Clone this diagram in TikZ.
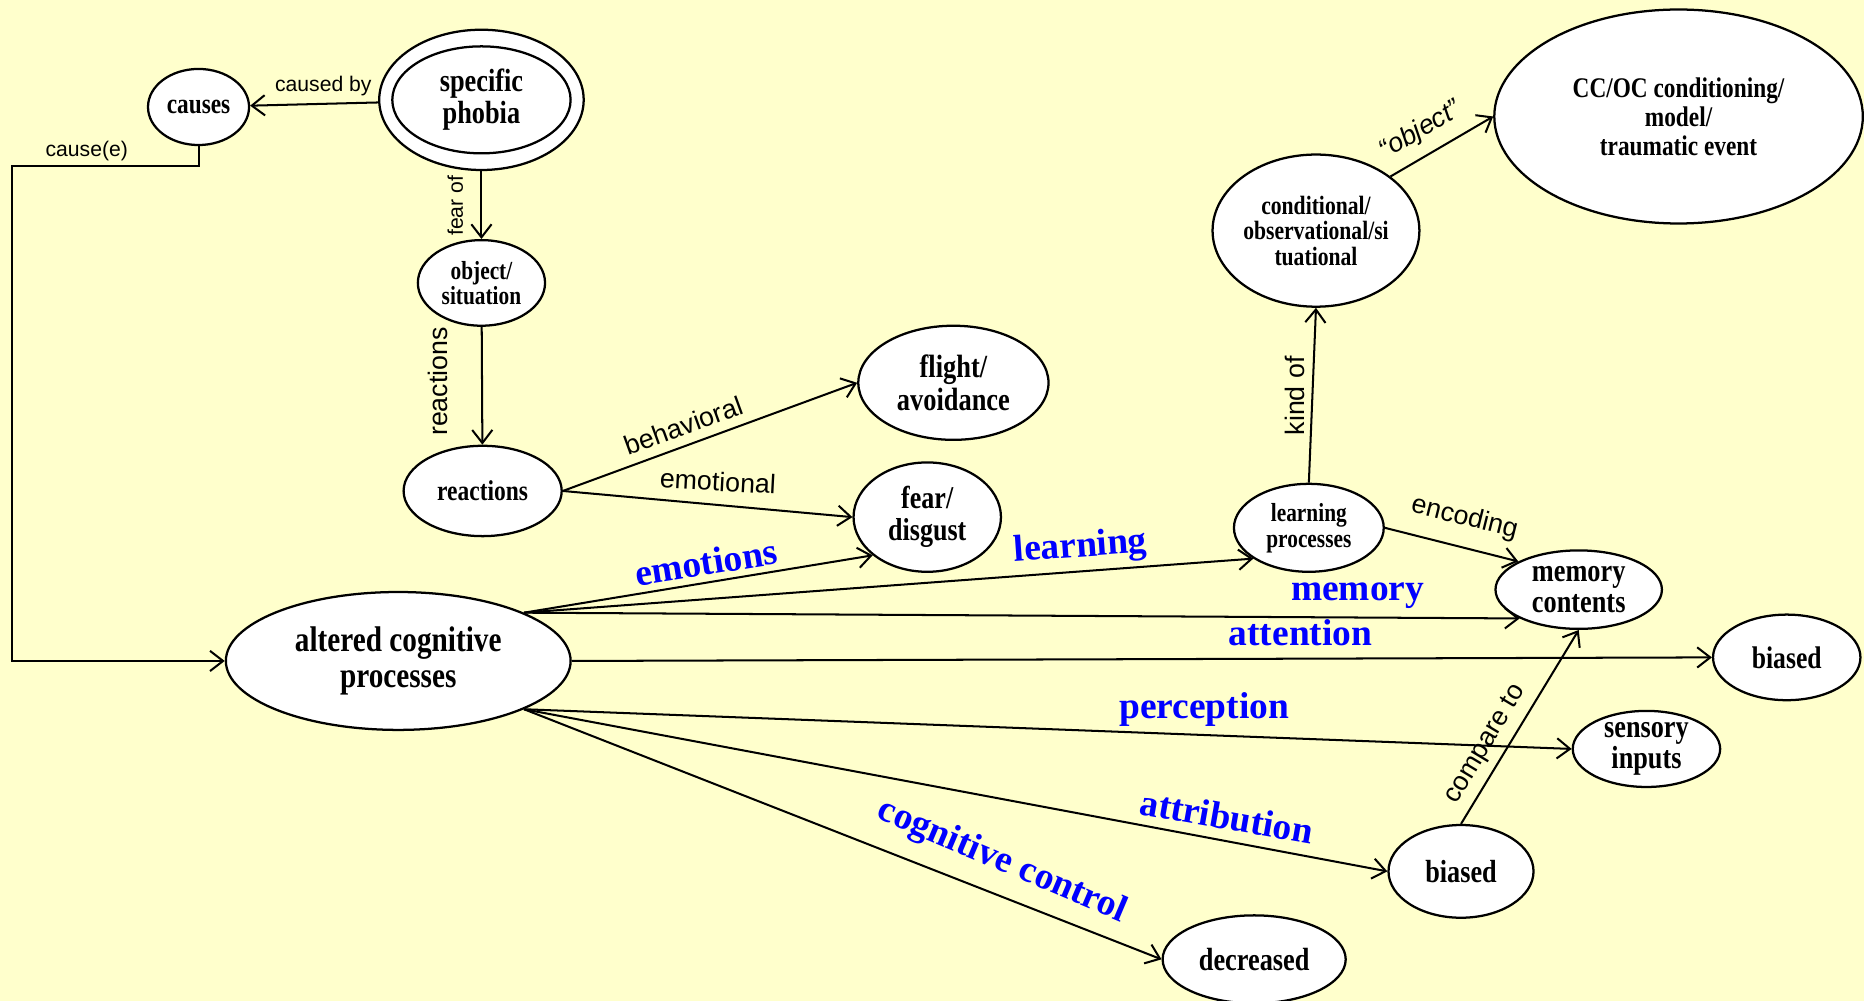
\documentclass[tikz,border=0pt]{standalone}
\usepackage{fontspec}
\setmainfont{Liberation Serif}
\newfontfamily\nodefont{Liberation Serif}[FakeStretch=0.82]
\newfontfamily\labelfont{Liberation Sans}
\usetikzlibrary{shapes.geometric,arrows.meta}
\definecolor{paper}{HTML}{FFFFCC}
\definecolor{procblue}{HTML}{0000FF}
\newcommand{\nf}[2]{\nodefont\bfseries\fontsize{#1}{#2}\selectfont}
\begin{document}
\begin{tikzpicture}[x=1pt,y=-1pt,
  ell/.style={ellipse, draw, fill=white, line width=1.9pt, inner sep=-3pt, align=center},
  arr/.style={line width=1.7pt, -{Straight Barb[length=11pt,width=17pt,line width=1.7pt]}},
  lbl/.style={font=\labelfont\fontsize{22.5}{24}\selectfont, inner sep=0pt},
  lblsmall/.style={font=\labelfont\fontsize{17.8}{19}\selectfont, inner sep=0pt},
  proc/.style={font=\bfseries\fontsize{31.5}{32}\selectfont, text=procblue, inner sep=0pt}]
\useasboundingbox (0,0) rectangle (1568,842);
\fill[paper] (0,0) rectangle (1568,842);

% nodes
\node[ell, minimum width=85pt, minimum height=64pt, font=\nf{23.9}{25}] (causes) at (167,90) {causes};
\node[ell, minimum width=172pt, minimum height=118pt] (phobia) at (405,84) {};
\node[ell, minimum width=150pt, minimum height=90pt, font=\nf{27}{27}] (phobiain) at (405,84) {specific\\phobia};
\node[ell, minimum width=107pt, minimum height=72pt, font=\nf{21.9}{21.5}] (object) at (405,238) {object/\\situation};
\node[ell, minimum width=133pt, minimum height=76pt, font=\nf{24.1}{25}] (reactions) at (406,413) {reactions};
\node[ell, minimum width=160pt, minimum height=96pt, font=\nf{27.1}{27}] (flight) at (802,322) {flight/\\avoidance};
\node[ell, minimum width=124pt, minimum height=92pt, font=\nf{26.7}{27}] (fear) at (780,435) {fear/\\disgust};
\node[ell, minimum width=290pt, minimum height=116pt, font=\nf{30}{31}] (altered) at (335,556) {altered cognitive\\processes};
\node[ell, minimum width=174pt, minimum height=128pt, font=\nf{22.2}{21.5}] (cond) at (1107,194) {conditional/\\observational/si\\tuational};
\node[ell, minimum width=310pt, minimum height=180pt, font=\nf{23.9}{24.5}] (ccoc) at (1412,98) {CC/OC conditioning/\\model/\\traumatic event};
\node[ell, minimum width=126pt, minimum height=74pt, font=\nf{21.9}{22}] (learning) at (1101,444) {learning\\processes};
\node[ell, minimum width=140pt, minimum height=66pt, font=\nf{27}{26}] (memory) at (1328,496) {memory\\contents};
\node[ell, minimum width=124pt, minimum height=72pt, font=\nf{26.3}{26}] (biasedr) at (1503,553) {biased};
\node[ell, minimum width=124pt, minimum height=64pt, font=\nf{26.9}{26}] (sensory) at (1385,630) {sensory\\inputs};
\node[ell, minimum width=122pt, minimum height=78pt, font=\nf{26.9}{26}] (biasedb) at (1229,733) {biased};
\node[ell, minimum width=154pt, minimum height=74pt, font=\nf{27}{26}] (decreased) at (1055,807) {decreased};

\coordinate (elbow) at (10,140);
\coordinate (au) at (altered.21);
\coordinate (ad) at (altered.-21);

% connectors
\draw[arr] (phobia) -- (causes);
\draw[arr] (causes.south) |- (elbow) |- (altered.west);
\draw[arr] (phobia) -- (object);
\draw[arr] (object) -- (reactions);
\draw[arr] (reactions.east) -- (flight.west);
\draw[arr] (reactions.east) -- (fear.west);
\draw[arr] (au) -- (fear.215);
\draw[arr] (au) -- (learning.209);
\draw[arr] (au) -- (memory.206);
\draw[arr] (altered.east) -- (biasedr.west);
\draw[arr] (ad) -- (sensory.west);
\draw[arr] (ad) -- (biasedb.west);
\draw[arr] (ad) -- (decreased.west);
\draw[arr] (learning.north) -- (cond.south);
\draw[arr] (cond.36) -- (ccoc.west);
\draw[arr] (learning.east) -- (memory.155);
\draw[arr] (biasedb.north) -- (memory.south);

% connector labels
\node[lblsmall] (lcausedby) at (272,72) {caused by};
\node[lblsmall] (lcausee) at (73,127) {cause(e)};
\node[lblsmall, rotate=90] (lfearof) at (383,173) {fear of};
\node[lbl, rotate=90] (lreact) at (368,321) {reactions};
\node[lbl, rotate=20] (lbehav) at (575,358) {behavioral};
\node[lbl, rotate=-3] (lemot) at (604,405) {emotional};
\node[lbl, rotate=90] (lkind) at (1089,333) {kind of};
\node[lbl, rotate=-14] (lenc) at (1232,436) {encoding};
\node[lbl, rotate=30, font=\labelfont\itshape\fontsize{22.5}{24}\selectfont] (lobj) at (1195,110) {“object”};
\node[lbl, rotate=59] (lcomp) at (1250,626) {compare to};

\node[proc, rotate=9] (pemot) at (594,473) {emotions};
\node[proc, rotate=4] (plearn) at (909,461) {learning};
\node[proc] (pmem) at (1142,501) {memory};
\node[proc] (patt) at (1094,532) {attention};
\node[proc] (pperc) at (1013,597) {perception};
\node[proc, rotate=-10] (pattr) at (1032,687) {attribution};
\node[proc, rotate=-23] (pcog) at (843,725) {cognitive control};
\end{tikzpicture}
\end{document}
